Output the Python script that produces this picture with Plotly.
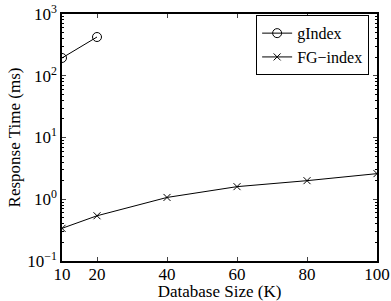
import plotly.graph_objects as go

x_gindex = [10, 20]
y_gindex = [194, 424]
x_fg = [10, 20, 40, 60, 80, 100]
y_fg = [0.338, 0.54, 1.07, 1.6, 2.0, 2.6]
x_ticks = [10, 20, 40, 60, 80, 100]
y_tickvals = [0.1, 1, 10, 100, 1000]
y_ticktext = ["10<sup>−1</sup>", "10<sup>0</sup>", "10<sup>1</sup>", "10<sup>2</sup>", "10<sup>3</sup>"]
y_minor = [m * 10 ** k for k in range(-1, 3) for m in range(2, 10)]

font = "Liberation Serif, Times New Roman, serif"

fig = go.Figure()
fig.add_trace(go.Scatter(x=x_gindex, y=y_gindex, name="gIndex", mode="lines+markers",
                         line=dict(color="black", width=1),
                         marker=dict(symbol="circle-open", size=9, color="black", line=dict(width=1))))
fig.add_trace(go.Scatter(x=x_fg, y=y_fg, name="FG−index", mode="lines+markers",
                         line=dict(color="black", width=1),
                         marker=dict(symbol="x-thin-open", size=7, color="black", line=dict(width=1))))

fig.update_layout(
    width=391, height=301,
    margin=dict(l=62, r=14, t=14, b=40),
    paper_bgcolor="white", plot_bgcolor="white",
    font=dict(family=font, size=17, color="black"),
    showlegend=True,
    legend=dict(x=0.975, y=0.995, xanchor="right", yanchor="top",
                bordercolor="black", borderwidth=1, bgcolor="white",
                font=dict(size=16), tracegroupgap=0, itemwidth=30),
    xaxis=dict(range=[10, 100], tickvals=x_ticks, ticks="inside", ticklen=4,
               showline=True, linecolor="black", linewidth=1.5, mirror="ticks",
               showgrid=False, zeroline=False, tickfont=dict(size=17), automargin=False,
               ticklabelstandoff=-3,
               title=dict(text="Database Size (K)", font=dict(size=17), standoff=0)),
    yaxis=dict(type="log", range=[-1, 3], tickvals=y_tickvals, ticktext=y_ticktext,
               ticks="inside", ticklen=4, tickfont=dict(size=17), automargin=False,
               showline=True, linecolor="black", linewidth=1.5, mirror="ticks",
               showgrid=False, zeroline=False,
               minor=dict(tickmode="array", tickvals=y_minor, ticks="inside", ticklen=2,
                          tickcolor="black", showgrid=False),
               title=dict(text="Response Time (ms)", font=dict(size=17), standoff=2)),
)

fig.write_html("out.html", config={"displayModeBar": False},
               post_script="document.body.style.margin='0px';")
